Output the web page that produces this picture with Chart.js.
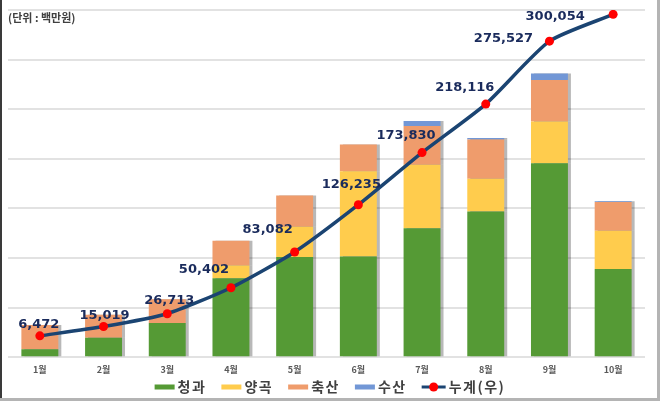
<!DOCTYPE html>
<html><head><meta charset="utf-8">
<script src="https://cdn.jsdelivr.net/npm/chart.js@4.4.0/dist/chart.umd.min.js"></script>
<style>html,body{margin:0;padding:0;background:#fff;overflow:hidden}#wrap{width:660px;height:401px}</style>
</head><body><div id="wrap"><canvas id="c" width="660" height="401"></canvas></div>
<script>
// Units: 백만원
const months = ['1월','2월','3월','4월','5월','6월','7월','8월','9월','10월'];
const fruitVeg  = [1600, 3900, 6900, 15900, 20200, 20300, 26000, 29400, 39100, 17800]; // 청과
const grain     = [0, 0, 0, 2600, 6100, 17200, 12800, 6600, 8400, 7700];               // 양곡
const livestock = [4870, 4650, 4800, 5000, 6300, 5400, 7800, 7900, 8400, 5800];        // 축산
const seafood   = [0, 0, 0, 0, 0, 0, 1000, 300, 1300, 150];                            // 수산
const cumulative = [6472, 15019, 26713, 50402, 83082, 126235, 173830, 218116, 275527, 300054]; // 누계(우)

const labelOffsets = [[-1,-11],[1,-11],[2,-13],[-27,-18],[-27,-22],[-7,-20],[-16,-17],[-21,-16],[-46,-3],[-58,2]];

const COLORS = {green:'#559a35', yellow:'#ffcc4d', orange:'#ef9c6c', blue:'#7297d6', line:'#1b4472', dot:'#ff0000'};

const barShadow = {
  id:'barShadow',
  beforeDatasetDraw(chart,args){
    if (chart.data.datasets[args.index].type==='line') return;
    const ctx=chart.ctx; ctx.save();
    ctx.shadowColor='rgba(0,0,0,0.28)'; ctx.shadowOffsetX=3; ctx.shadowOffsetY=0; ctx.shadowBlur=0;
  },
  afterDatasetDraw(chart,args){
    if (chart.data.datasets[args.index].type==='line') return;
    chart.ctx.restore();
  }
};

const pointLabels = {
  id:'pointLabels',
  afterDatasetsDraw(chart){
    const meta = chart.getDatasetMeta(0);
    const ctx = chart.ctx; ctx.save();
    ctx.font = 'bold 13px "DejaVu Sans"';
    ctx.fillStyle = '#1a2b5c'; ctx.textAlign='center'; ctx.textBaseline='middle';
    meta.data.forEach((pt,i)=>{
      const o = labelOffsets[i];
      ctx.fillText(cumulative[i].toLocaleString('en-US'), pt.x+o[0], pt.y+o[1]);
    });
    ctx.restore();
  }
};

const decor = {
  id:'decor',
  afterDraw(chart){
    const ctx = chart.ctx; ctx.save();
    ctx.font = 'bold 11px "Noto Sans CJK KR"';
    ctx.fillStyle = '#404040'; ctx.textAlign='left'; ctx.textBaseline='middle';
    ctx.fillText('(단위 : 백만원)', 8, 17.5);
    const items = [
      {t:'청과', c:COLORS.green},{t:'양곡', c:COLORS.yellow},{t:'축산', c:COLORS.orange},
      {t:'수산', c:COLORS.blue},{t:'누계(우)', line:true}
    ];
    ctx.font = 'bold 14px "Noto Sans CJK KR"';
    try { ctx.letterSpacing = '1.5px'; } catch(e) {}
    const boxW = 20, iconW = 24, gap = 3, itemGap = 15;
    let total = 0;
    items.forEach((it,i)=>{ it.w = ctx.measureText(it.t).width; total += (it.line?iconW:boxW) + gap + it.w + (i<items.length-1?itemGap:0); });
    let x = 330 - total/2; const y = 387;
    items.forEach(it=>{
      if (it.line) {
        ctx.strokeStyle = COLORS.line; ctx.lineWidth = 3;
        ctx.beginPath(); ctx.moveTo(x, y); ctx.lineTo(x+iconW, y); ctx.stroke();
        ctx.fillStyle = COLORS.dot; ctx.beginPath(); ctx.arc(x+iconW/2, y, 4.5, 0, Math.PI*2); ctx.fill();
        x += iconW;
      } else {
        ctx.fillStyle = it.c; ctx.fillRect(x, y-2.5, boxW, 5);
        x += boxW;
      }
      x += gap;
      ctx.fillStyle = '#404040'; ctx.textAlign='left'; ctx.textBaseline='middle';
      ctx.fillText(it.t, x, y);
      x += it.w + itemGap;
    });
    try { ctx.letterSpacing = '0px'; } catch(e) {}
    ctx.fillStyle = '#3a3a3a'; ctx.fillRect(0,0,2,401);
    ctx.fillStyle = '#b4b4b4'; ctx.fillRect(657,0,3,401); ctx.fillRect(0,398,660,3);
    ctx.restore();
  }
};

const barCommon = {stack:'s', order:1, yAxisID:'y', barPercentage:0.58, categoryPercentage:1, borderWidth:0};

new Chart(document.getElementById('c'), {
  type:'bar',
  data:{
    labels: months,
    datasets:[
      {type:'line', label:'누계(우)', data:cumulative, yAxisID:'y1', order:0,
       borderColor:COLORS.line, borderWidth:3.5, tension:0.2,
       pointRadius:4.5, pointBackgroundColor:COLORS.dot, pointBorderColor:COLORS.dot, pointBorderWidth:0},
      Object.assign({label:'청과', data:fruitVeg, backgroundColor:COLORS.green}, barCommon),
      Object.assign({label:'양곡', data:grain, backgroundColor:COLORS.yellow}, barCommon),
      Object.assign({label:'축산', data:livestock, backgroundColor:COLORS.orange}, barCommon),
      Object.assign({label:'수산', data:seafood, backgroundColor:COLORS.blue}, barCommon)
    ]
  },
  options:{
    responsive:false, animation:false, devicePixelRatio:1,
    layout:{padding:{left:8, right:15, top:10, bottom:19}},
    plugins:{legend:{display:false}, tooltip:{enabled:false}},
    scales:{
      x:{stacked:true, grid:{display:false, drawTicks:false}, border:{display:false},
         ticks:{font:{family:'"Noto Sans CJK KR"', size:9, weight:'bold'}, color:'#595959', padding:7}},
      y:{stacked:true, min:0, max:70000, position:'left',
         ticks:{display:false, stepSize:10000}, grid:{color:'#e2e2e2', lineWidth:2, drawTicks:false}, border:{display:false}},
      y1:{display:false, min:-13000, max:304000, position:'right'}
    }
  },
  plugins:[barShadow, pointLabels, decor]
});
</script></body></html>
